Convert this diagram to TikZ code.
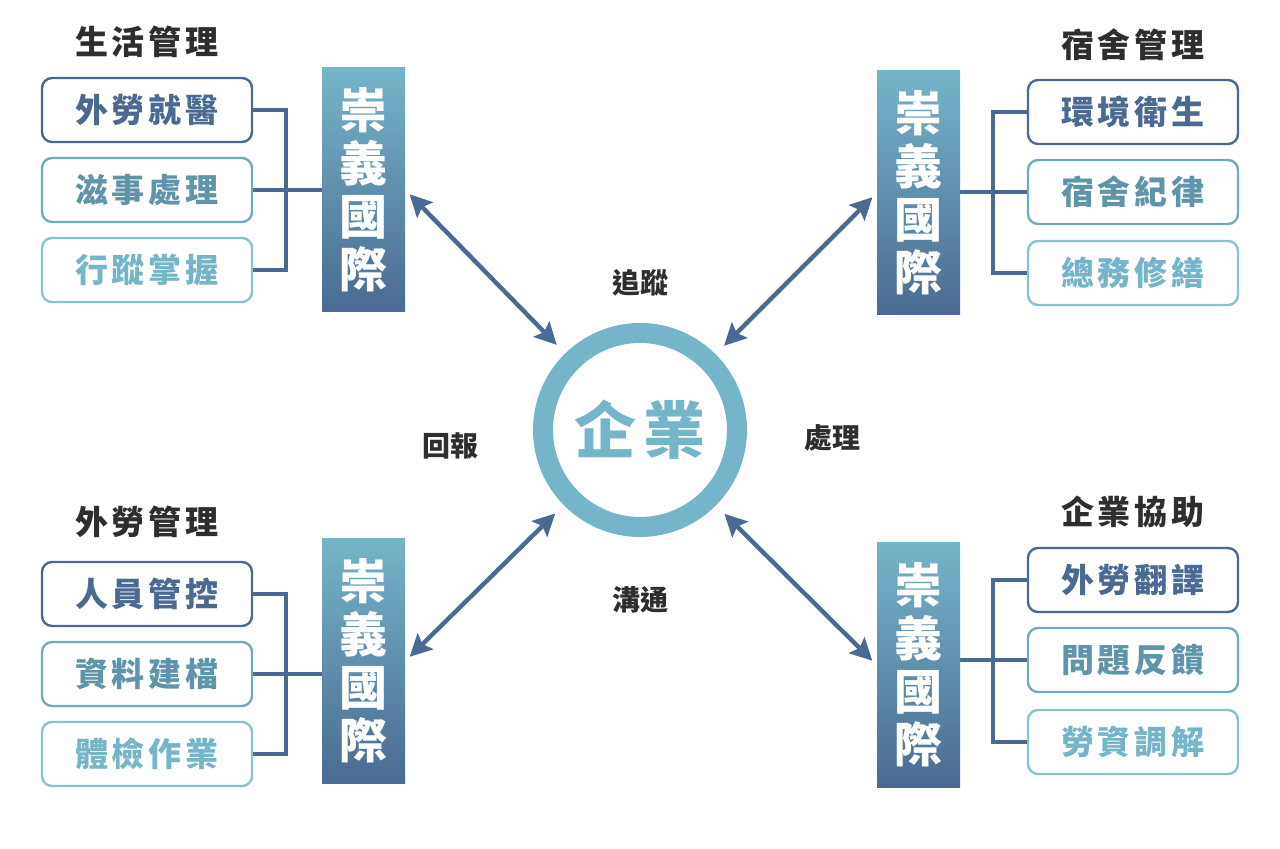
\documentclass[tikz,border=0pt]{standalone}
\usepackage{fontspec}
\usetikzlibrary{arrows.meta}
\newfontfamily\cjk{Noto Sans CJK TC}[LetterSpace=12]
\newfontfamily\cjkplain{Noto Sans CJK TC}
\definecolor{navy}{HTML}{4A6A93}
\definecolor{teal}{HTML}{5F95AA}
\definecolor{sky}{HTML}{74B5C9}
\definecolor{skyline}{HTML}{88C2D2}
\definecolor{tealline}{HTML}{72A9BC}
\definecolor{ink}{HTML}{2E2E2E}

\begin{document}
\begin{tikzpicture}[x=0.5pt,y=-0.5pt]
\tikzstyle{every node}+=[inner sep=0pt]
\tikzstyle{title}=[font=\cjk\bfseries\fontsize{16.5}{16.5}\selectfont, text=ink]
\tikzstyle{item}=[draw, rounded corners=5pt, line width=1.2pt, fill=white,
  minimum width=105pt, minimum height=32pt, font=\cjk\bfseries\fontsize{16.5}{16.5}\selectfont]
\tikzstyle{itemA}=[item, draw=navy, text=navy]
\tikzstyle{itemB}=[item, draw=tealline, text=teal]
\tikzstyle{itemC}=[item, draw=skyline, text=sky]
\tikzstyle{bar}=[rectangle, minimum width=41.5pt, minimum height=122pt,
  top color=sky, bottom color=navy, text=white, align=center,
  font=\cjkplain\bfseries\fontsize{24}{26.5}\selectfont]
\tikzstyle{link}=[navy, line width=1.8pt]
\tikzstyle{arr}=[navy, line width=2.2pt, {Stealth[length=11pt,width=11pt,inset=2pt]}-{Stealth[length=11pt,width=11pt,inset=2pt]}]
\tikzstyle{tag}=[font=\cjkplain\bfseries\fontsize{14}{14}\selectfont, text=ink]
\useasboundingbox (0,0) rectangle (1280,849);

% centre
\node [circle, draw=sky, line width=10pt, minimum size=97pt, text=sky,
  font=\cjk\bfseries\fontsize{31}{31}\selectfont] (ent) at (640,430) {企業};
\node [tag] (t1) at (640,283) {追蹤};
\node [tag] (t2) at (450,446) {回報};
\node [tag] (t3) at (832,438) {處理};
\node [tag] (t4) at (640,600) {溝通};

% top left
\node [title] (h1) at (147,42) {生活管理};
\node [itemA] (a1) at (147,110) {外勞就醫};
\node [itemB] (a2) at (147,190) {滋事處理};
\node [itemC] (a3) at (147,270) {行蹤掌握};
\node [bar] (b1) at (363.5,190) {崇\\義\\國\\際};
\coordinate (j1) at (286,190);
\draw [link] (a1.east) -| (j1) |- (a3.east);
\draw [link] (a2.east) -- (b1.west);

% top right
\node [title] (h2) at (1133,45) {宿舍管理};
\node [itemA] (c1) at (1133,112) {環境衛生};
\node [itemB] (c2) at (1133,192) {宿舍紀律};
\node [itemC] (c3) at (1133,273) {總務修繕};
\node [bar] (b2) at (918.5,193) {崇\\義\\國\\際};
\coordinate (j2) at (993,192);
\draw [link] (c1.west) -| (j2) |- (c3.west);
\draw [link] (c2.west) -- (c2.west -| b2.east);

% bottom left
\node [title] (h3) at (147,522) {外勞管理};
\node [itemA] (d1) at (147,594) {人員管控};
\node [itemB] (d2) at (147,674) {資料建檔};
\node [itemC] (d3) at (147,754) {體檢作業};
\node [bar] (b3) at (363.5,661) {崇\\義\\國\\際};
\coordinate (j3) at (286,674);
\draw [link] (d1.east) -| (j3) |- (d3.east);
\draw [link] (d2.east) -- (d2.east -| b3.west);

% bottom right
\node [title] (h4) at (1133,512) {企業協助};
\node [itemA] (e1) at (1133,580) {外勞翻譯};
\node [itemB] (e2) at (1133,660) {問題反饋};
\node [itemC] (e3) at (1133,742) {勞資調解};
\node [bar] (b4) at (918.5,665) {崇\\義\\國\\際};
\coordinate (j4) at (993,660);
\draw [link] (e1.west) -| (j4) |- (e3.west);
\draw [link] (e2.west) -- (e2.west -| b4.east);

% arrows
\draw [arr, shorten <=3pt, shorten >=6pt] (b1.east) -- (ent);
\draw [arr, shorten <=3pt, shorten >=6pt] (b2.west) -- (ent);
\draw [arr, shorten <=3pt, shorten >=6pt] (b3.east) -- (ent);
\draw [arr, shorten <=3pt, shorten >=6pt] (b4.west) -- (ent);
\end{tikzpicture}
\end{document}
